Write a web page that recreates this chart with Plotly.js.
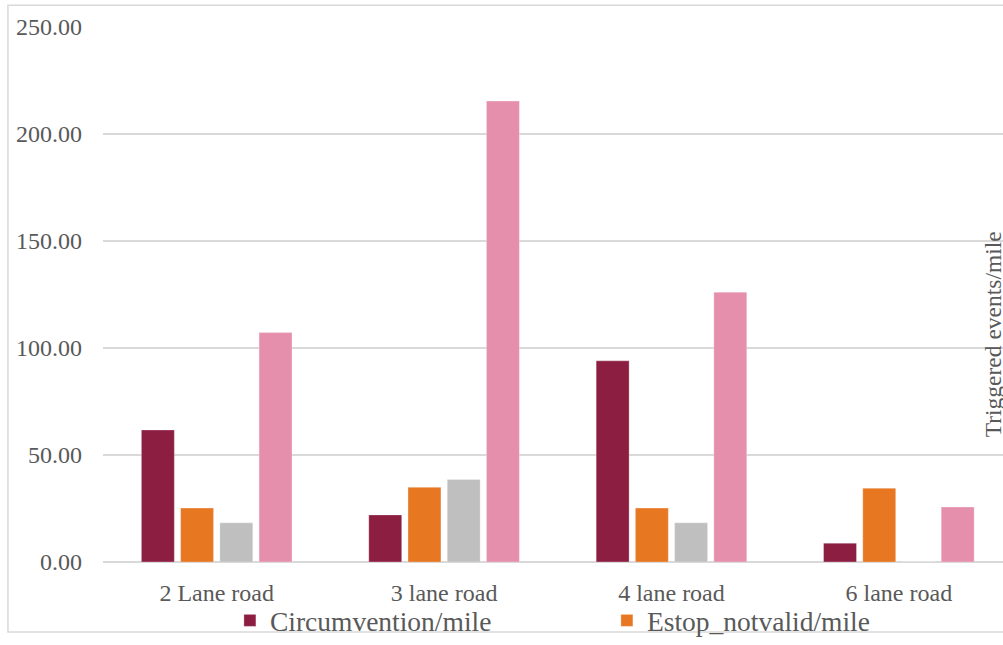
<!DOCTYPE html>
<html>
<head>
<meta charset="utf-8">
<script src="https://cdn.plot.ly/plotly-3.0.1.min.js"></script>
<style>html,body{margin:0;padding:0;background:#fff;overflow:hidden}</style>
</head>
<body>
<div id="chart" style="width:1003px;height:645px"></div>
<script>
var categories = ["2 Lane road", "3 lane road", "4 lane road", "6 lane road"];
var circumvention = [61.7, 22.0, 94.0, 8.8];
var estopNotValid = [25.2, 34.9, 25.2, 34.5];
var series3 = [18.3, 38.6, 18.3, 0];
var series4 = [107.2, 215.4, 126.1, 25.7];
var seriesNames = ["Circumvention/mile", "Estop_notvalid/mile", "Series3", "Series4"];
var yTitle = "Triggered events/mile";

var colors = ["#8B1E41", "#E87722", "#BFBFBF", "#E68FAC"];
var values = [circumvention, estopNotValid, series3, series4];
var showLeg = [true, true, false, false];

var traces = values.map(function (v, i) {
  return {
    type: "bar",
    x: categories,
    y: v,
    name: seriesNames[i],
    showlegend: showLeg[i],
    marker: {color: colors[i], line: {color: "rgba(255,255,255,0.6)", width: 0.5}}
  };
});

var font = "Liberation Serif";
var layout = {
  width: 1003, height: 645,
  margin: {l: 103, r: 0, t: 27, b: 76, pad: 0},
  paper_bgcolor: "#fff", plot_bgcolor: "#fff",
  barmode: "group", bargap: 0.31, bargroupgap: 0.16,
  font: {family: font, color: "#595959", size: 24},
  xaxis: {
    range: [-0.5, 3.458], type: "category",
    showgrid: false, showline: false, ticks: "",
    tickfont: {family: font, size: 24, color: "#595959"},
    ticklabelstandoff: 14, fixedrange: true
  },
  yaxis: {
    range: [0, 250], dtick: 50, tickformat: ".2f",
    showgrid: true, gridcolor: "#d9d9d9", gridwidth: 1.5,
    zeroline: true, zerolinecolor: "#d9d9d9", zerolinewidth: 1.5,
    showline: false, ticks: "",
    tickfont: {family: font, size: 24, color: "#595959"},
    ticklabelstandoff: 20, fixedrange: true
  },
  legend: {
    orientation: "h", x: 0.141, xanchor: "left", y: -0.11, yanchor: "middle",
    entrywidth: 332, entrywidthmode: "pixels",
    font: {family: font, size: 27.5, color: "#595959"},
    bgcolor: "rgba(0,0,0,0)", traceorder: "normal"
  },
  annotations: [{
    text: yTitle, xref: "paper", yref: "paper",
    x: 0.9885, y: 0.425, xanchor: "center", yanchor: "middle",
    textangle: -90, showarrow: false,
    font: {family: font, size: 23.5, color: "#595959"}
  }],
  shapes: [{
    type: "rect", xref: "paper", yref: "paper",
    x0: -0.1056, x1: 1.02, y0: -0.131, y1: 1.0406,
    line: {color: "#d9d9d9", width: 1.5}, fillcolor: "rgba(0,0,0,0)", layer: "below"
  }]
};

Plotly.newPlot("chart", traces, layout, {displayModeBar: false, staticPlot: true});
</script>
</body>
</html>
